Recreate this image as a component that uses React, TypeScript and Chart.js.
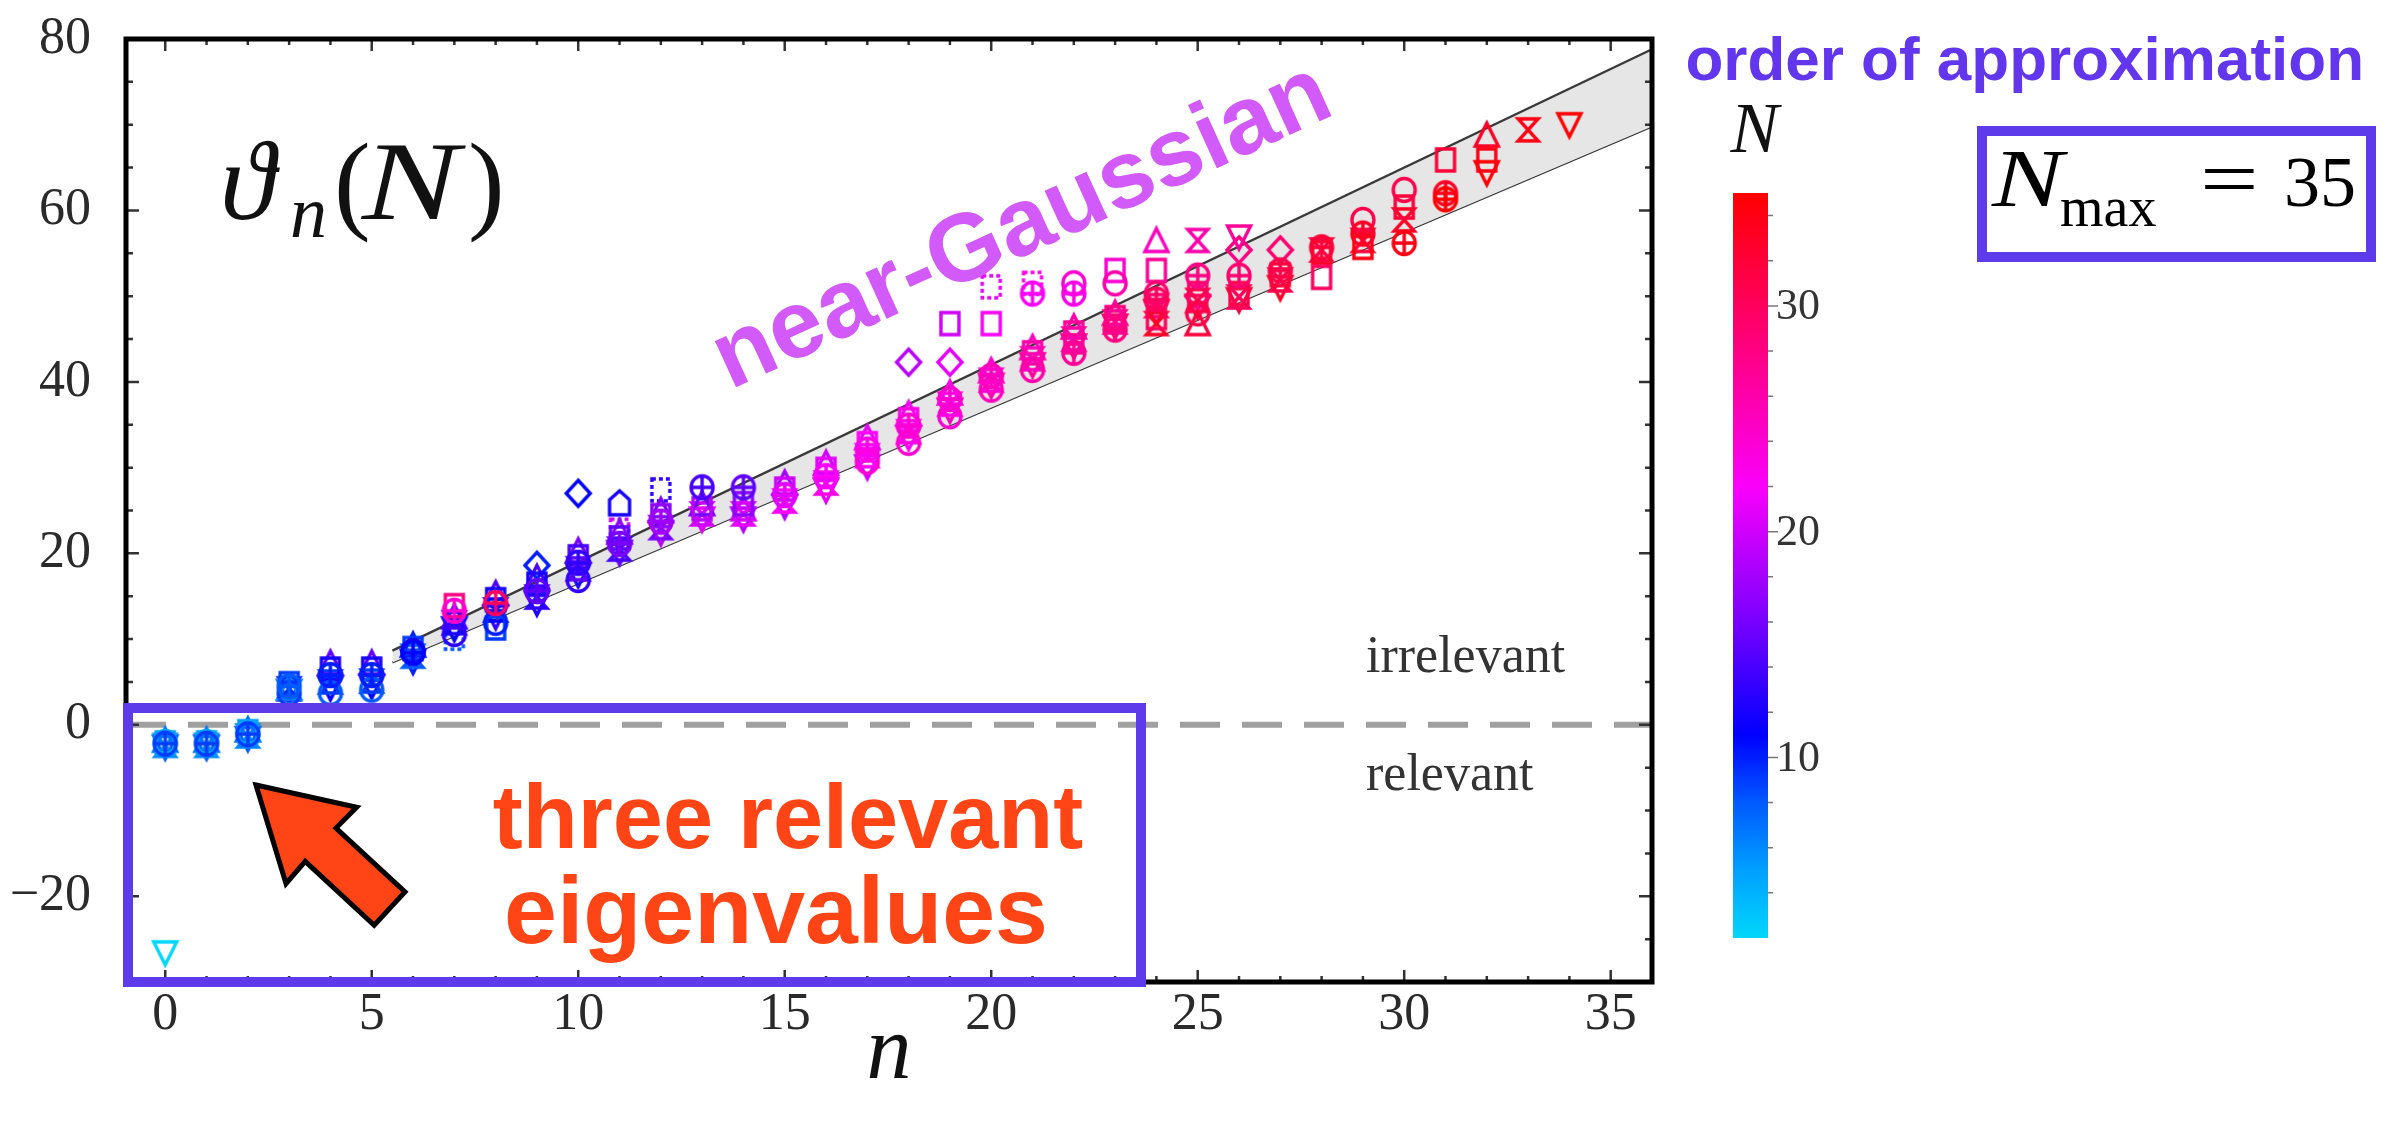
import React, { useEffect, useRef } from "react";
import { Chart, registerables } from "chart.js";

Chart.register(...registerables);

const SERIF = "'Liberation Serif', 'DejaVu Serif', serif";
const SANS = "'Liberation Sans', Arial, sans-serif";

// ---- axes / ticks ----
const X_RANGE = [-0.95, 36];
const Y_RANGE = [-30, 80];
const X_TICKS = [0, 5, 10, 15, 20, 25, 30, 35];
const Y_TICKS = [-20, 0, 20, 40, 60, 80];
const COLORBAR_TICKS = [10, 20, 30];
const N_RANGE = [2, 35];

// ---- near-Gaussian band (two straight edges) ----
const BAND_N = [5.5, 36];
const BAND_UPPER = [8.65, 78.8];
const BAND_LOWER = [7.28, 69.8];
const ZERO_LINE_N = [-0.95, 36];

// ---- eigenvalues, grouped by marker: [n, theta_n, N] ----
const TRI_UP = [
  [0, -1.8, 7], [1, -1.8, 7], [2, -0.6, 7], [3, 4.3, 6], [4, 7.2, 15], [5, 7.2, 15], [6, 9.3, 10],
  [7, 12.6, 14], [8, 15.3, 14], [9, 17.2, 14], [10, 20.3, 16], [11, 22.5, 17], [12, 25.0, 16],
  [13, 25.8, 16], [14, 25.2, 20], [15, 28.2, 18], [16, 30.5, 20], [17, 33.5, 21], [18, 36.3, 22],
  [19, 38.7, 23], [20, 41.3, 24], [21, 44.0, 25], [22, 46.4, 26], [23, 48.0, 27], [24, 56.5, 25],
  [25, 46.8, 32], [32, 68.8, 33],
];
const SQUARE = [
  [0, -2.1, 5], [1, -2.1, 5], [2, -0.8, 5], [3, 4.8, 9], [4, 6.5, 12], [5, 6.5, 12], [6, 8.9, 9],
  [7, 13.9, 28], [8, 14.6, 12], [8, 11.3, 9], [9, 16.4, 12], [10, 19.6, 14], [11, 21.8, 15],
  [12, 24.4, 17], [13, 25.2, 19], [14, 25.8, 17], [15, 27.5, 20], [16, 29.8, 21], [17, 32.8, 22],
  [18, 35.6, 23], [19, 46.8, 20], [20, 46.8, 22], [21, 43.4, 26], [22, 45.7, 27], [23, 53.0, 24],
  [23, 47.5, 28], [24, 53.0, 27], [24, 47.5, 30], [25, 50.3, 30], [26, 50.3, 31], [27, 52.5, 32],
  [28, 55.1, 33], [28, 52.2, 30], [29, 55.7, 34], [30, 60.4, 32], [31, 65.9, 32], [32, 65.9, 34],
];
const CIRCLE_PLUS = [
  [0, -2.2, 9], [1, -2.2, 9], [2, -1.1, 9], [3, 4.5, 8], [4, 5.8, 10], [5, 5.8, 10], [6, 8.4, 11],
  [7, 13.3, 24], [8, 14.2, 30], [9, 15.6, 15], [10, 18.9, 13], [11, 21.1, 16], [12, 23.7, 18],
  [13, 27.7, 14], [14, 27.7, 15], [15, 26.8, 21], [16, 29.0, 22], [17, 32.1, 23], [18, 34.9, 24],
  [19, 38.0, 24], [20, 40.7, 25], [21, 50.3, 22], [22, 50.3, 23], [22, 43.4, 27], [23, 46.1, 28],
  [24, 49.6, 30], [25, 52.4, 28], [26, 52.4, 29], [27, 53.0, 31], [28, 55.7, 32], [29, 57.3, 33],
  [30, 56.2, 34], [31, 62.0, 33], [31, 61.3, 35],
];
const HOURGLASS = [
  [0, -2.4, 6], [1, -2.4, 6], [2, -1.3, 6], [3, 4.2, 10], [4, 5.0, 9], [5, 5.1, 9], [6, 8.0, 8],
  [7, 11.9, 12], [8, 13.4, 11], [9, 14.9, 13], [10, 18.2, 15], [11, 20.5, 14], [12, 23.0, 16],
  [13, 24.6, 20], [14, 24.6, 21], [15, 26.1, 22], [16, 28.2, 23], [17, 31.4, 22], [18, 34.2, 23],
  [19, 37.4, 23], [20, 40.2, 24], [21, 42.7, 25], [22, 45.0, 26], [23, 47.0, 27], [24, 48.9, 29],
  [24, 46.8, 33], [25, 56.5, 26], [25, 49.5, 31], [26, 49.9, 30], [27, 51.9, 31], [28, 55.4, 31],
  [29, 56.5, 32], [30, 58.9, 33], [33, 69.4, 34],
];
const TRI_DOWN = [
  [0, -2.6, 8], [0, -26.6, 2], [1, -2.6, 8], [2, -1.6, 8], [3, 3.9, 7], [4, 4.3, 11], [5, 4.5, 11],
  [6, 7.4, 10], [7, 11.2, 11], [8, 12.6, 13], [9, 14.2, 12], [10, 17.5, 12], [11, 20.1, 15],
  [12, 22.4, 19], [13, 24.0, 21], [14, 24.0, 19], [15, 25.5, 19], [16, 27.4, 21], [17, 30.1, 20],
  [18, 33.5, 22], [19, 36.7, 25], [20, 39.6, 26], [21, 42.0, 27], [22, 44.2, 28], [23, 46.5, 29],
  [24, 48.2, 31], [25, 48.8, 30], [26, 56.9, 27], [26, 49.6, 32], [27, 51.0, 33], [32, 64.4, 35],
  [34, 70.0, 35],
];
const CIRCLE = [
  [0, -2.0, 4], [1, -2.0, 4], [2, -1.0, 4], [3, 3.7, 9], [4, 3.7, 8], [5, 4.1, 8], [6, 8.6, 12],
  [7, 10.6, 13], [8, 11.9, 10], [10, 16.9, 13], [17, 30.7, 24], [18, 32.9, 24], [19, 36.0, 24],
  [20, 39.1, 25], [21, 41.4, 26], [22, 51.5, 24], [23, 51.5, 26], [24, 50.3, 29], [25, 48.0, 31],
  [29, 58.9, 31], [30, 62.4, 31],
];
const DIAMOND = [
  [9, 18.6, 10], [10, 27.0, 11], [18, 42.3, 19], [19, 42.3, 21], [25, 50.0, 27], [26, 55.4, 28],
  [27, 55.4, 29],
];
const DASHED_SQUARE = [
  [7, 10.1, 8], [11, 22.7, 20], [12, 27.4, 13], [20, 51.1, 21], [21, 51.5, 23],
];
const PENTAGON = [[11, 25.9, 12]];

// colour map N -> rgb (cyan -> blue -> violet -> magenta -> red)
const COLOR_STOPS: [number, number[]][] = [
  [2, [0, 215, 250]],
  [5, [0, 160, 255]],
  [8, [0, 90, 255]],
  [11, [0, 0, 255]],
  [16, [120, 0, 255]],
  [22, [250, 0, 250]],
  [28, [255, 0, 130]],
  [34, [255, 0, 20]],
  [35, [255, 0, 0]],
];

function colorOf(N: number): string {
  const s = COLOR_STOPS;
  if (N <= s[0][0]) return `rgb(${s[0][1].join(",")})`;
  for (let i = 1; i < s.length; i++) {
    if (N <= s[i][0]) {
      const t = (N - s[i - 1][0]) / (s[i][0] - s[i - 1][0]);
      const c = s[i - 1][1].map((v, k) => Math.round(v + (s[i][1][k] - v) * t));
      return `rgb(${c.join(",")})`;
    }
  }
  return `rgb(${s[s.length - 1][1].join(",")})`;
}

const markerCache = new Map<string, HTMLCanvasElement>();
function marker(shape: string, color: string): HTMLCanvasElement {
  const key = shape + "|" + color;
  const hit = markerCache.get(key);
  if (hit) return hit;
  const c = document.createElement("canvas");
  c.width = 34;
  c.height = 34;
  const g = c.getContext("2d")!;
  g.strokeStyle = color;
  g.lineWidth = 3.4;
  g.lineJoin = "miter";
  g.translate(17, 17);
  g.beginPath();
  switch (shape) {
    case "sq":
      g.rect(-9, -11, 18, 22);
      break;
    case "dsq":
      g.setLineDash([4, 3]);
      g.rect(-9, -11, 18, 22);
      break;
    case "circ":
      g.ellipse(0, 0, 11, 11.5, 0, 0, Math.PI * 2);
      break;
    case "cplus":
      g.ellipse(0, 0, 11, 11.5, 0, 0, Math.PI * 2);
      g.moveTo(-11, 0);
      g.lineTo(11, 0);
      g.moveTo(0, -11.5);
      g.lineTo(0, 11.5);
      break;
    case "dia":
      g.moveTo(0, -13);
      g.lineTo(12, 0);
      g.lineTo(0, 13);
      g.lineTo(-12, 0);
      g.closePath();
      break;
    case "tup":
      g.moveTo(0, -12);
      g.lineTo(11.5, 11);
      g.lineTo(-11.5, 11);
      g.closePath();
      break;
    case "tdn":
      g.moveTo(-11.5, -11);
      g.lineTo(11.5, -11);
      g.lineTo(0, 12);
      g.closePath();
      break;
    case "hg":
      g.moveTo(-10, -11);
      g.lineTo(10, -11);
      g.lineTo(-10, 11);
      g.lineTo(10, 11);
      g.closePath();
      break;
    case "house":
      g.moveTo(0, -12);
      g.lineTo(10, -3);
      g.lineTo(10, 12);
      g.lineTo(-10, 12);
      g.lineTo(-10, -3);
      g.closePath();
      break;
  }
  g.stroke();
  markerCache.set(key, c);
  return c;
}

const SHAPE_SETS: [string, number[][]][] = [
  ["cplus", CIRCLE_PLUS],
  ["circ", CIRCLE],
  ["sq", SQUARE],
  ["tup", TRI_UP],
  ["hg", HOURGLASS],
  ["tdn", TRI_DOWN],
  ["dia", DIAMOND],
  ["dsq", DASHED_SQUARE],
  ["house", PENTAGON],
];

const fmt = (v: number) => (v < 0 ? "\u2212" + Math.abs(v) : String(v));

function wideText(ctx: CanvasRenderingContext2D, txt: string, x: number, y: number, sx: number) {
  ctx.save();
  ctx.translate(x, y);
  ctx.scale(sx, 1);
  ctx.fillText(txt, 0, 0);
  ctx.restore();
}

const overlayPlugin = {
  id: "overlay",
  afterDraw(chart: any) {
    const { ctx, chartArea: a } = chart;
    const xs = chart.scales.x;
    const ys = chart.scales.y;
    ctx.save();

    // inward frame ticks
    ctx.strokeStyle = "#333";
    ctx.lineWidth = 2.5;
    ctx.beginPath();
    for (let n = Math.ceil(X_RANGE[0]); n <= Math.floor(X_RANGE[1]); n++) {
      const px = xs.getPixelForValue(n);
      const len = n % 5 === 0 ? 12 : 6;
      ctx.moveTo(px, a.bottom);
      ctx.lineTo(px, a.bottom - len);
      ctx.moveTo(px, a.top);
      ctx.lineTo(px, a.top + len);
    }
    for (let v = Y_RANGE[0] + 5; v < Y_RANGE[1]; v += 5) {
      const py = ys.getPixelForValue(v);
      const len = v % 20 === 0 ? 13 : 7;
      ctx.moveTo(a.left, py);
      ctx.lineTo(a.left + len, py);
      ctx.moveTo(a.right, py);
      ctx.lineTo(a.right - len, py);
    }
    ctx.stroke();

    // frame
    ctx.strokeStyle = "#000";
    ctx.lineWidth = 5;
    ctx.strokeRect(a.left, a.top, a.right - a.left, a.bottom - a.top);

    // axis title n
    ctx.fillStyle = "#111";
    ctx.font = `italic 90px ${SERIF}`;
    ctx.textAlign = "center";
    ctx.textBaseline = "alphabetic";
    ctx.fillText("n", (a.left + a.right) / 2, 1078);

    // theta_n(N) label
    ctx.textAlign = "left";
    ctx.font = `italic 112px ${SERIF}`;
    ctx.fillText("\u03D1", 220, 219);
    ctx.font = `italic 74px ${SERIF}`;
    ctx.fillText("n", 290, 237);
    ctx.font = `110px ${SERIF}`;
    ctx.fillText("(", 334, 219);
    ctx.font = `italic 112px ${SERIF}`;
    wideText(ctx, "N", 362, 219, 1.3);
    ctx.font = `110px ${SERIF}`;
    ctx.fillText(")", 468, 219);

    // irrelevant / relevant
    ctx.fillStyle = "#333";
    ctx.font = `52px ${SERIF}`;
    ctx.fillText("irrelevant", 1366, 672);
    ctx.fillText("relevant", 1366, 790);

    // near-Gaussian
    ctx.save();
    ctx.translate(730, 390);
    ctx.rotate((-24.5 * Math.PI) / 180);
    ctx.fillStyle = "#D25AF8";
    ctx.font = `bold 96px ${SANS}`;
    ctx.fillText("near-Gaussian", 0, 0);
    ctx.restore();

    // purple box, lower-left
    const PURPLE = "#5E3BEA";
    ctx.strokeStyle = PURPLE;
    ctx.lineWidth = 10;
    ctx.strokeRect(128, 708, 1141 - 128, 982 - 708);

    // three relevant eigenvalues
    ctx.fillStyle = "#FF4516";
    ctx.textAlign = "center";
    ctx.font = `bold 90px ${SANS}`;
    ctx.fillText("three relevant", 788, 848);
    ctx.font = `bold 95px ${SANS}`;
    ctx.fillText("eigenvalues", 776, 943);

    // arrow
    const tip = [256, 785];
    const ang = Math.atan2(123.5, 133.5);
    const u = [Math.cos(ang), Math.sin(ang)];
    const w = [-Math.sin(ang), Math.cos(ang)];
    const P = (s: number, t: number) => [tip[0] + s * u[0] + t * w[0], tip[1] + s * u[1] + t * w[1]];
    const poly = [P(0, 0), P(89, -52), P(88, -22.7), P(182, -22.7), P(182, 22.7), P(88, 22.7), P(89, 52)];
    ctx.beginPath();
    poly.forEach((p, i) => (i ? ctx.lineTo(p[0], p[1]) : ctx.moveTo(p[0], p[1])));
    ctx.closePath();
    ctx.fillStyle = "#FF4516";
    ctx.fill();
    ctx.strokeStyle = "#000";
    ctx.lineWidth = 5;
    ctx.lineJoin = "miter";
    ctx.stroke();

    // colour bar
    const cbL = 1733, cbR = 1768, cbT = 193, cbB = 938;
    const cbY = (N: number) => cbT + ((N_RANGE[1] - N) / (N_RANGE[1] - N_RANGE[0])) * (cbB - cbT);
    const grad = ctx.createLinearGradient(0, cbB, 0, cbT);
    COLOR_STOPS.forEach(([N]) => {
      const f = (N - N_RANGE[0]) / (N_RANGE[1] - N_RANGE[0]);
      grad.addColorStop(Math.min(1, Math.max(0, f)), colorOf(N));
    });
    ctx.fillStyle = grad;
    ctx.fillRect(cbL, cbT, cbR - cbL, cbB - cbT);
    ctx.strokeStyle = "#777";
    ctx.lineWidth = 1.5;
    ctx.beginPath();
    for (let N = 4; N <= 34; N += 2) {
      const py = cbY(N);
      const len = N % 10 === 0 ? 10 : 5;
      ctx.moveTo(cbR, py);
      ctx.lineTo(cbR + len, py);
    }
    ctx.stroke();
    ctx.fillStyle = "#333";
    ctx.font = `44px ${SERIF}`;
    ctx.textAlign = "left";
    ctx.textBaseline = "middle";
    COLORBAR_TICKS.forEach((N) => ctx.fillText(String(N), cbR + 8, cbY(N) + 2));
    ctx.textBaseline = "alphabetic";
    ctx.textAlign = "center";
    ctx.fillStyle = "#111";
    ctx.font = `italic 72px ${SERIF}`;
    ctx.fillText("N", (cbL + cbR) / 2 + 4, 152);

    // order of approximation
    ctx.fillStyle = "#6236EC";
    ctx.font = `bold 62px ${SANS}`;
    ctx.textAlign = "right";
    ctx.fillText("order of approximation", 2364, 80);

    // N_max box
    ctx.strokeStyle = PURPLE;
    ctx.lineWidth = 10;
    ctx.strokeRect(1982, 131, 2371 - 1982, 257 - 131);
    ctx.fillStyle = "#000";
    ctx.textAlign = "left";
    ctx.font = `italic 82px ${SERIF}`;
    wideText(ctx, "N", 1992, 206, 1.3);
    ctx.font = `56px ${SERIF}`;
    ctx.fillText("max", 2060, 226);
    ctx.font = `80px ${SERIF}`;
    wideText(ctx, "=", 2200, 206, 1.3);
    ctx.font = `72px ${SERIF}`;
    ctx.fillText("35", 2284, 206);

    ctx.restore();
  },
};

export default function App() {
  const ref = useRef<HTMLCanvasElement>(null);
  useEffect(() => {
    document.body.style.margin = "0";
    const pointSets = SHAPE_SETS.map(([shape, arr], i) => ({
      type: "scatter" as const,
      label: shape,
      order: i + 1,
      data: arr.map(([n, t, N]) => ({ x: n, y: t, N })),
      pointRadius: 12,
      pointHoverRadius: 12,
      pointStyle: (c: any) => (c.raw ? marker(shape, colorOf(c.raw.N)) : "circle"),
    }));
    const datasets: any[] = [
      {
        type: "line",
        label: "upper",
        order: 30,
        data: BAND_N.map((n, i) => ({ x: n, y: BAND_UPPER[i] })),
        borderColor: "#3a3a3a",
        borderWidth: 2.4,
        pointRadius: 0,
        backgroundColor: "#e6e6e6",
        fill: "+1",
      },
      {
        type: "line",
        label: "lower",
        order: 31,
        data: BAND_N.map((n, i) => ({ x: n, y: BAND_LOWER[i] })),
        borderColor: "#3a3a3a",
        borderWidth: 2.4,
        pointRadius: 0,
        fill: false,
      },
      {
        type: "line",
        label: "zero",
        order: 25,
        data: ZERO_LINE_N.map((n) => ({ x: n, y: 0 })),
        borderColor: "rgba(150,150,150,0.9)",
        borderWidth: 6,
        borderDash: [40, 22],
        pointRadius: 0,
        fill: false,
      },
      ...pointSets,
    ];
    const chart = new Chart(ref.current!, {
      type: "scatter",
      data: { datasets },
      options: {
        animation: false,
        responsive: false,
        devicePixelRatio: 1,
        layout: { padding: { left: 0, top: 39, right: 731, bottom: 0 } },
        plugins: { legend: { display: false }, tooltip: { enabled: false } },
        scales: {
          x: {
            type: "linear",
            min: X_RANGE[0],
            max: X_RANGE[1],
            grid: { display: false, drawTicks: false },
            border: { display: false },
            afterBuildTicks: (s: any) => {
              s.ticks = X_TICKS.map((v) => ({ value: v }));
            },
            afterFit: (s: any) => {
              s.height = 142;
              s.paddingLeft = 0;
              s.paddingRight = 0;
            },
            ticks: {
              color: "#2a2a2a",
              font: { family: SERIF, size: 52 },
              padding: 2,
              maxRotation: 0,
              autoSkip: false,
              callback: (v: any) => fmt(Number(v)),
            },
          },
          y: {
            type: "linear",
            min: Y_RANGE[0],
            max: Y_RANGE[1],
            grid: { display: false, drawTicks: false },
            border: { display: false },
            afterBuildTicks: (s: any) => {
              s.ticks = Y_TICKS.map((v) => ({ value: v }));
            },
            afterFit: (s: any) => {
              s.width = 126;
              s.paddingTop = 0;
              s.paddingBottom = 0;
            },
            ticks: {
              color: "#2a2a2a",
              font: { family: SERIF, size: 52 },
              padding: 35,
              autoSkip: false,
              callback: (v: any) => fmt(Number(v)),
            },
          },
        },
      },
      plugins: [overlayPlugin],
    } as any);
    return () => chart.destroy();
  }, []);
  return (
    <div style={{ position: "absolute", left: 0, top: 0, width: 2383, height: 1124, background: "#fff" }}>
      <canvas ref={ref} width={2383} height={1124} style={{ display: "block", width: 2383, height: 1124 }} />
    </div>
  );
}
